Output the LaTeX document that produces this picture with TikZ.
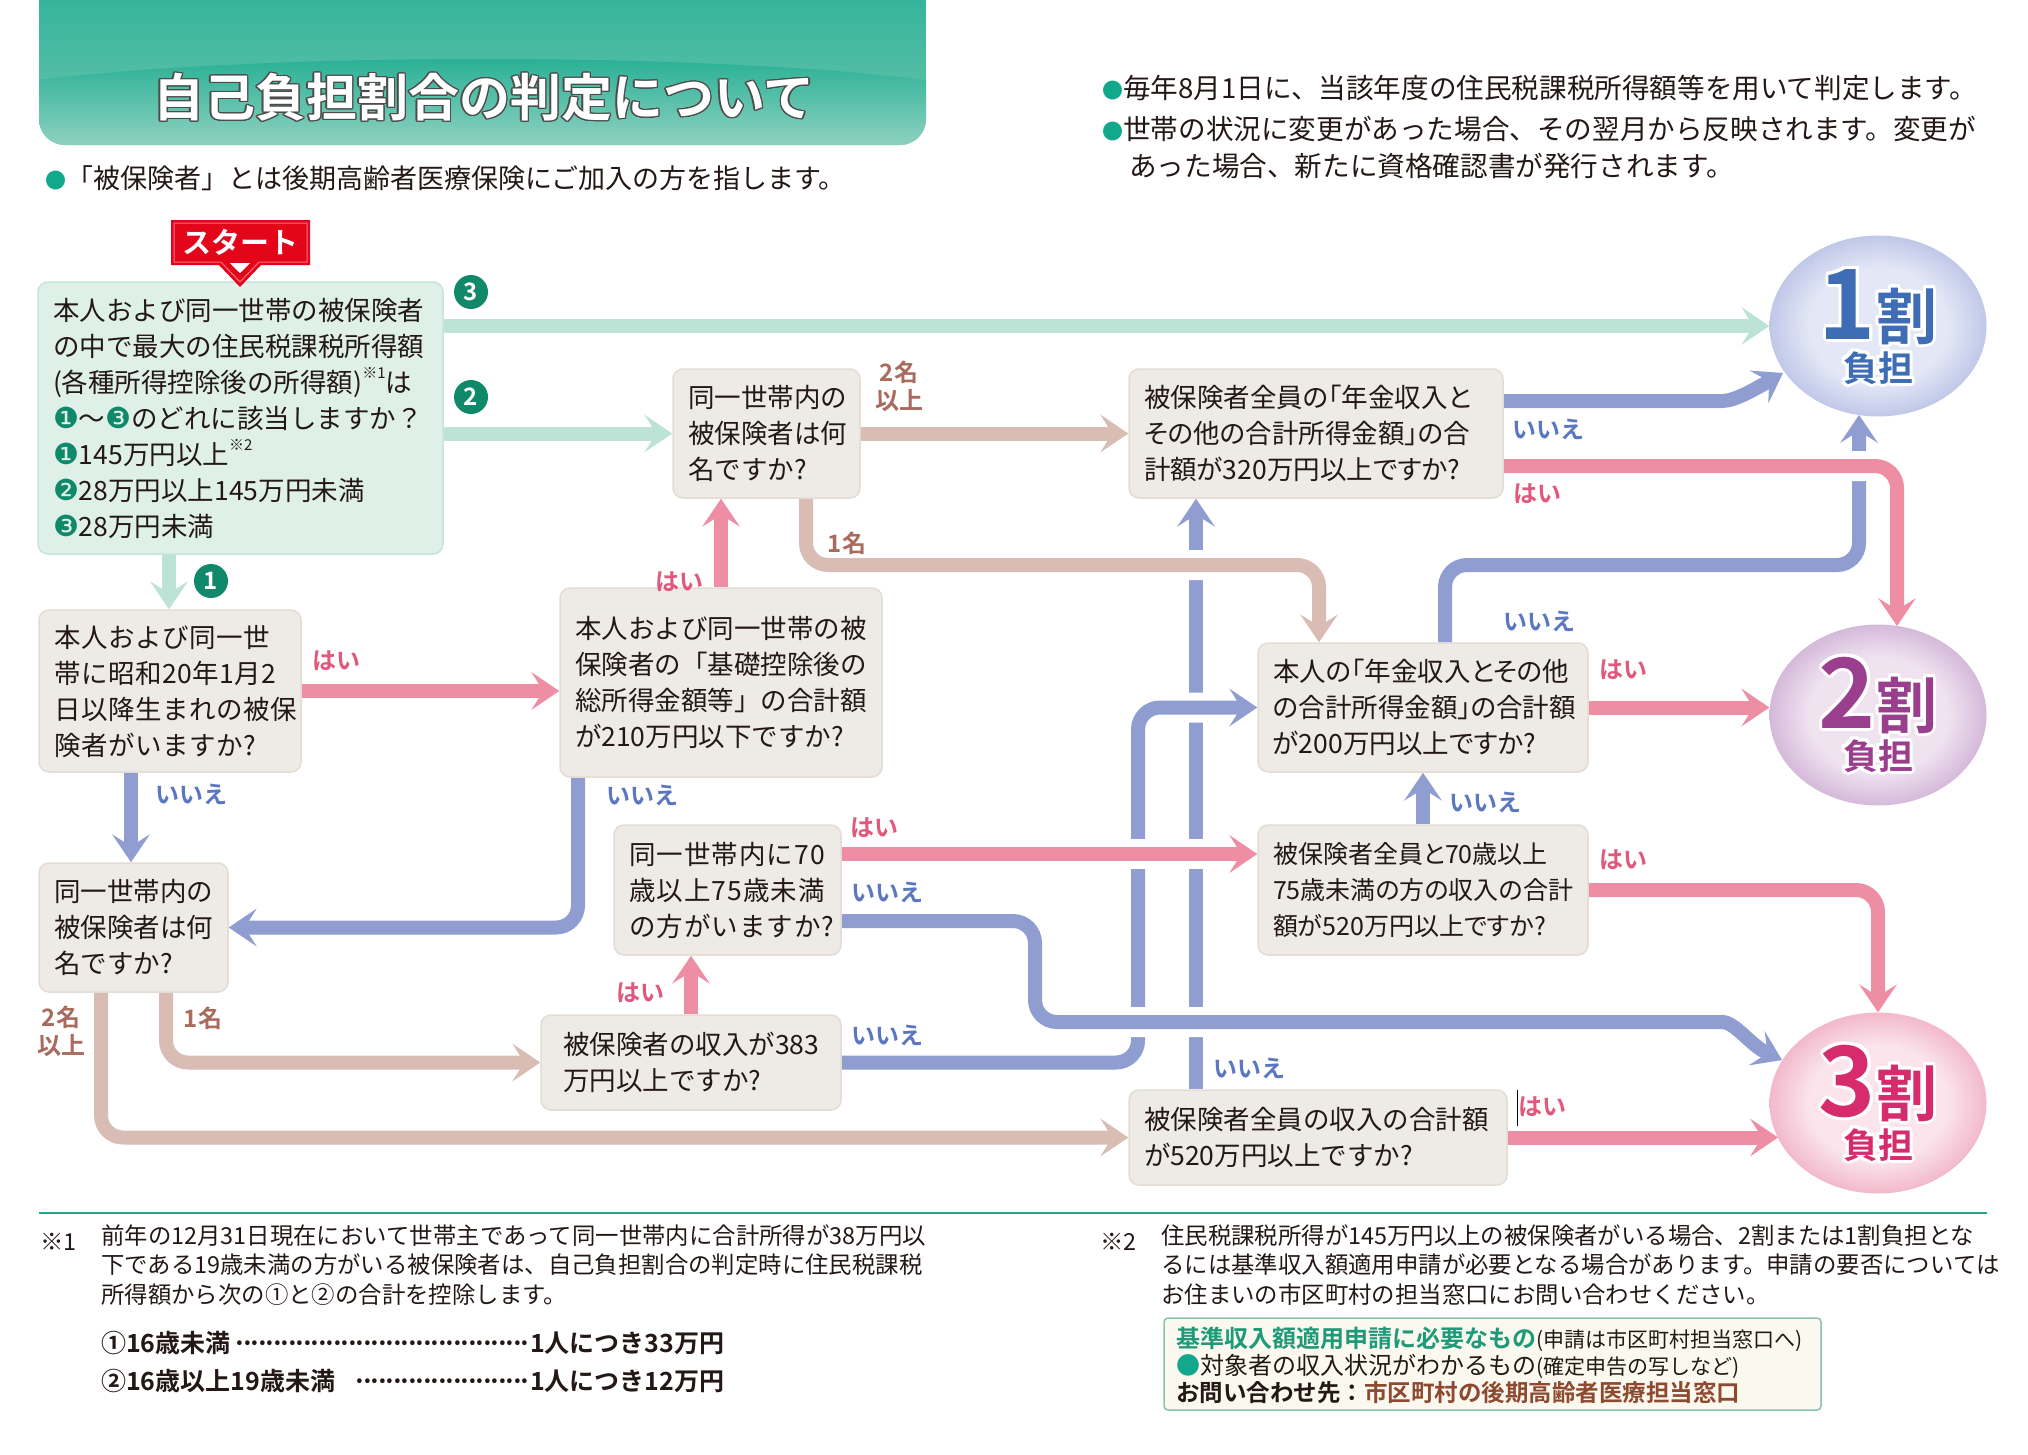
\documentclass[tikz,border=0pt]{standalone}
\usepackage{fontspec}
\setmainfont{Noto Sans CJK JP}[BoldFont={Noto Sans CJK JP Bold}]
\newfontfamily\djv{DejaVu Sans}
\usepackage{contour}
\usetikzlibrary{arrows.meta,shapes.geometric,backgrounds}

\definecolor{cgreen}{HTML}{BDE2D6}
\definecolor{cpink}{HTML}{EE8EA5}
\definecolor{cblue}{HTML}{8F9DD0}
\definecolor{crose}{HTML}{D9BCB3}
\definecolor{boxfill}{HTML}{EEEAE5}
\definecolor{boxline}{HTML}{E2DCD4}
\definecolor{stfill}{HTML}{DFF0E9}
\definecolor{stline}{HTML}{C6E5D9}
\definecolor{numg}{HTML}{10896A}
\definecolor{yesc}{HTML}{E2587D}
\definecolor{noc}{HTML}{5B77C0}
\definecolor{namc}{HTML}{A86B5E}
\definecolor{bullg}{HTML}{12A88B}
\definecolor{startred}{HTML}{E3051A}
\definecolor{startln}{HTML}{F2707C}
\definecolor{ttop}{HTML}{27B197}
\definecolor{tmid}{HTML}{6CC4AD}
\definecolor{tarc}{HTML}{22AE92}
\definecolor{tbot}{HTML}{8ED1C0}
\definecolor{sepg}{HTML}{1FA98C}
\definecolor{c1in}{HTML}{E3E7F6}
\definecolor{c1out}{HTML}{C0C8E8}
\definecolor{c1t}{HTML}{3E6DB5}
\definecolor{c2in}{HTML}{EFE3F0}
\definecolor{c2out}{HTML}{D5B9DA}
\definecolor{c2t}{HTML}{9A3F8D}
\definecolor{c3in}{HTML}{FBE4EB}
\definecolor{c3out}{HTML}{F2B9CB}
\definecolor{c3t}{HTML}{D62C6E}
\definecolor{creamf}{HTML}{FBF8EF}
\definecolor{creaml}{HTML}{86C2AC}
\definecolor{needg}{HTML}{1E9A78}
\definecolor{brownc}{HTML}{8E4A30}
\definecolor{txt}{HTML}{231815}

\pgfdeclareradialshading{ringA}{\pgfpoint{0bp}{0bp}}{color(0bp)=(c1in); color(16bp)=(c1in); color(25bp)=(c1out); color(50bp)=(c1out)}
\pgfdeclareradialshading{ringB}{\pgfpoint{0bp}{0bp}}{color(0bp)=(c2in); color(16bp)=(c2in); color(25bp)=(c2out); color(50bp)=(c2out)}
\pgfdeclareradialshading{ringC}{\pgfpoint{0bp}{0bp}}{color(0bp)=(c3in); color(16bp)=(c3in); color(25bp)=(c3out); color(50bp)=(c3out)}

\newcommand\qf{\fontsize{26.5}{36}\selectfont}
\newcommand\gn[1]{{\djv\fontsize{29}{29}\selectfont\color{numg}#1}}
\newcommand\sups[1]{\raisebox{0.5em}{\fontsize{15}{15}\selectfont #1}}
\newcommand\bul{{\color{bullg}\fontsize{21}{21}\selectfont ●}}
\newcommand\fnf{\fontsize{23.4}{29.7}\selectfont}

\begin{document}
\begin{tikzpicture}[x=1pt,y=-1pt,
  >={Stealth[length=28pt,width=38pt,inset=12pt,line width=0pt]},
  conn/.style={line width=14pt,rounded corners=22pt,->},
  gl/.style={conn,draw=cgreen},
  pk/.style={conn,draw=cpink},
  bl/.style={conn,draw=cblue},
  rs/.style={conn,draw=crose},
  halo/.style={preaction={draw=white,line width=30pt,-}},
  qbox/.style={draw=boxline,line width=1.5pt,fill=boxfill,rounded corners=10pt,inner xsep=15pt,inner ysep=0pt,align=left,font=\qf,text=txt},
  pbox/.style={qbox,font=\qf\addfontfeature{RawFeature=+palt}},
  ylab/.style={font=\bfseries\fontsize{24}{24}\selectfont,text=yesc},
  nlab/.style={font=\bfseries\fontsize{24}{24}\selectfont,text=noc},
  mlab/.style={font=\bfseries\fontsize{24}{28}\selectfont,text=namc,align=center},
  gnum/.style={circle,fill=numg,text=white,inner sep=0pt,minimum size=34pt,font=\bfseries\fontsize{24}{24}\selectfont},
  res/.style={ellipse,minimum width=217pt,minimum height=181pt,inner sep=0pt,shade},
  rtext/.style={anchor=base,inner sep=0pt},
]
\useasboundingbox (0,0) rectangle (2028,1454);

% ---------- title banner ----------
\begin{scope}
\clip[rounded corners=26pt] (39,-40) rectangle (926,145);
\shade[top color=ttop,bottom color=tmid] (39,-40) rectangle (926,145);
\shade[top color=tarc,bottom color=tbot] (39,145) -- (39,80) .. controls (260,52) and (705,52) .. (926,80) -- (926,145) -- cycle;
\end{scope}
\node[font=\bfseries\fontsize{51}{51}\selectfont,text=white] (title) at (484,98) {\contourlength{1.3pt}\contour{black!70}{自己負担割合の判定について}};

% ---------- header notes ----------
\node[anchor=west,font=\fontsize{27}{27}\selectfont,text=txt,inner sep=0pt] (hint) at (45,178) {\bul「被保険者」とは後期高齢者医療保険にご加入の方を指します。};
\node[anchor=west,font=\fontsize{27.6}{27.6}\selectfont,text=txt,inner sep=0pt] (noteA) at (1102,88) {\bul 毎年8月1日に、当該年度の住民税課税所得額等を用いて判定します。};
\node[anchor=west,font=\fontsize{27.6}{27.6}\selectfont,text=txt,inner sep=0pt] (noteB) at (1102,129) {\bul 世帯の状況に変更があった場合、その翌月から反映されます。変更が};
\node[anchor=west,font=\fontsize{27.6}{27.6}\selectfont,text=txt,inner sep=0pt] (noteC) at (1129,166) {あった場合、新たに資格確認書が発行されます。};

% ---------- boxes ----------
\node[qbox,draw=stline,fill=stfill,minimum width=403pt,minimum height=272pt,text width=375pt] (B0) at (240.5,418)
 {本人および同一世帯の被保険者\\の中で最大の住民税課税所得額\\(各種所得控除後の所得額)\sups{※1}は\\\gn{❶}〜\gn{❸}のどれに該当しますか？\\\gn{❶}145万円以上\sups{※2}\\\gn{❷}28万円以上145万円未満\\\gn{❸}28万円未満};
\node[qbox,minimum width=262pt,minimum height=162pt,text width=232pt,font=\qf\addfontfeature{LetterSpace=2}] (B1) at (170,691)
 {本人および同一世\\帯に昭和20年1月2\\日以降生まれの被保\\険者がいますか?};
\node[qbox,minimum width=322pt,minimum height=189pt,text width=292pt] (B2) at (721,682.5)
 {本人および同一世帯の被\\保険者の「基礎控除後の\\総所得金額等」の合計額\\が210万円以下ですか?};
\node[qbox,minimum width=187pt,minimum height=129pt,text width=157pt] (B3) at (766.5,433.5)
 {同一世帯内の\\被保険者は何\\名ですか?};
\node[pbox,minimum width=374pt,minimum height=129pt,text width=344pt] (B4) at (1316,433.5)
 {被保険者全員の「年金収入と\\その他の合計所得金額」の合\\計額が320万円以上ですか?};
\node[pbox,minimum width=330pt,minimum height=129pt,text width=300pt] (B5) at (1423,707.5)
 {本人の「年金収入とその他\\の合計所得金額」の合計額\\が200万円以上ですか?};
\node[pbox,minimum width=330pt,minimum height=130pt,text width=300pt,font=\fontsize{25}{36}\selectfont\addfontfeature{RawFeature=+palt}] (B6) at (1423,890)
 {被保険者全員と70歳以上\\75歳未満の方の収入の合計\\額が520万円以上ですか?};
\node[qbox,minimum width=227pt,minimum height=130pt,text width=197pt,font=\qf\addfontfeature{LetterSpace=4}] (B7) at (727.5,890)
 {同一世帯内に70\\歳以上75歳未満\\の方がいますか?};
\node[qbox,minimum width=189pt,minimum height=129pt,text width=159pt] (B8) at (133.5,927.5)
 {同一世帯内の\\被保険者は何\\名ですか?};
\node[qbox,minimum width=300pt,minimum height=95pt,inner xsep=22pt,text width=256pt] (B9) at (691,1062.5)
 {被保険者の収入が383\\万円以上ですか?};
\node[qbox,minimum width=378pt,minimum height=95pt,text width=348pt] (B10) at (1318,1137.5)
 {被保険者全員の収入の合計額\\が520万円以上ですか?};

% ---------- start label ----------
\path[fill=startred] (171,220) -- (310,220) -- (310,265) -- (261,265) -- (240,287) -- (219,265) -- (171,265) -- cycle;
\draw[startln,line width=1pt] (174,223) -- (307,223) -- (307,262) -- (259,262) -- (240,282) -- (221,262) -- (174,262) -- cycle;
\fill[white] (230,263) -- (250,263) -- (240,273) -- cycle;
\node[font=\bfseries\fontsize{29}{29}\selectfont,text=white] (start) at (240.5,242) {スタート};

% ---------- result circles ----------
\node[res,shading=ringA] (C1) at (1878,326) {};
\node[res,shading=ringB] (C2) at (1878,715) {};
\node[res,shading=ringC] (C3) at (1878,1103) {};
\contourlength{3pt}
\node[rtext,text=c1t] (C1a) at (1878,339) {\contour{white}{\bfseries\fontsize{97}{97}\selectfont 1}\contour{white}{\bfseries\fontsize{61}{61}\selectfont 割}};
\node[rtext,text=c1t] (C1b) at (1878,381) {\contour{white}{\bfseries\fontsize{35}{35}\selectfont 負担}};
\node[rtext,text=c2t] (C2a) at (1878,728) {\contour{white}{\bfseries\fontsize{97}{97}\selectfont 2}\contour{white}{\bfseries\fontsize{61}{61}\selectfont 割}};
\node[rtext,text=c2t] (C2b) at (1878,769) {\contour{white}{\bfseries\fontsize{35}{35}\selectfont 負担}};
\node[rtext,text=c3t] (C3a) at (1878,1116) {\contour{white}{\bfseries\fontsize{97}{97}\selectfont 3}\contour{white}{\bfseries\fontsize{61}{61}\selectfont 割}};
\node[rtext,text=c3t] (C3b) at (1878,1158) {\contour{white}{\bfseries\fontsize{35}{35}\selectfont 負担}};

% ---------- connectors ----------
\begin{scope}[on background layer]
\draw[bl] (1196,0 |- B10.north) -- (1196,0 |- B4.south);
\draw[bl] (1445,0 |- B5.north) -- (1445,565) -- (1859,565) -- (1859,415);
\draw[bl,halo] (B9.east) -- (1138,0 |- B9.east) -- (1138,0 |- B5.west) -- (B5.west);
\draw[rs,halo] (806,0 |- B3.south) -- (806,565) -- (1319,565) -- (1319,0 |- B5.north);
\draw[pk,halo] (B4.east |- 0,466) -- (1897,466) -- (1897,626);
\draw[pk,halo] (B7.east |- 0,854) -- (B6.west |- 0,854);
\draw[bl,halo] (B7.east |- 0,921) -- (1035,921) -- (1035,1022) -- (1700,1022) to[out=0,in=155] (1782,1060);
\draw[gl] (B0.east |- C1.west) -- (C1.west);
\draw[gl] (B0.east |- B3.west) -- (B3.west);
\draw[gl] (169,0 |- B0.south) -- (169,0 |- B1.north);
\draw[pk] (B1.east) -- (B1.east -| B2.west);
\draw[bl] (131,0 |- B1.south) -- (131,0 |- B8.north);
\draw[pk] (B2.north) -- (B2.north |- B3.south);
\draw[bl] (578,0 |- B2.south) -- (578,0 |- B8.east) -- (B8.east);
\draw[rs] (B3.east) -- (B4.west);
\draw[bl] (B4.east |- 0,401) -- (1700,401) to[out=0,in=210] (1783,373);
\draw[pk] (B5.east) -- (B5.east -| C2.west);
\draw[bl] (B6.north) -- (B5.south);
\draw[pk] (B6.east) -- (1878,0 |- B6.east) -- (C3.north);
\draw[pk] (B9.north) -- (B9.north |- B7.south);
\draw[pk] (B10.east) -- (1778,0 |- B10.east);
\draw[rs] (166,0 |- B8.south) -- (166,0 |- B9.west) -- (B9.west);
\draw[rs] (101,0 |- B8.south) -- (101,0 |- B10.west) -- (B10.west);
\end{scope}
\draw[black,line width=1pt] (1517,1090) -- (1517,1126);

% ---------- markers & labels ----------
\node[gnum] (m3) at (471,292) {3};
\node[gnum] (m2) at (471,397) {2};
\node[gnum] (m1) at (211,581) {1};
\node[ylab] (y1) at (336,661) {はい};
\node[ylab] (y2) at (679,582) {はい};
\node[ylab] (y4) at (1537,494) {はい};
\node[ylab] (y5) at (1623,670) {はい};
\node[ylab] (y6) at (1623,860) {はい};
\node[ylab] (y7) at (874,828) {はい};
\node[ylab] (y9) at (640,993) {はい};
\node[ylab] (y10) at (1542,1107) {はい};
\node[nlab] (n1) at (191,794) {いいえ};
\node[nlab] (n2) at (642,795) {いいえ};
\node[nlab] (n4) at (1548,429) {いいえ};
\node[nlab] (n5) at (1539,621) {いいえ};
\node[nlab] (n6) at (1485,802) {いいえ};
\node[nlab] (n7) at (887,892) {いいえ};
\node[nlab] (n9) at (887,1035) {いいえ};
\node[nlab] (n10) at (1249,1068) {いいえ};
\node[mlab] (k1) at (899,386) {2名\\以上};
\node[mlab] (k2) at (847,543) {1名};
\node[mlab] (k3) at (61,1031) {2名\\以上};
\node[mlab] (k4) at (203,1018) {1名};

% ---------- footnotes ----------
\draw[sepg,line width=2.5pt] (39,1213) -- (1987,1213);
\node[anchor=west,font=\fnf,text=txt,inner sep=0pt] (f1m) at (40,1242) {※1};
\node[anchor=north west,font=\fnf,text=txt,inner sep=0pt,align=left] (f1) at (101,1224)
 {前年の12月31日現在において世帯主であって同一世帯内に合計所得が38万円以\\下である19歳未満の方がいる被保険者は、自己負担割合の判定時に住民税課税\\所得額から次の①と②の合計を控除します。};
\node[anchor=west,font=\bfseries\fontsize{25}{25}\selectfont,text=txt,inner sep=0pt] (f1a) at (101,1343)
 {\makebox[429pt][l]{①16歳未満\leaders\hbox to 7.5pt{\hss·\hss}\hfill}1人につき33万円};
\node[anchor=west,font=\bfseries\fontsize{25}{25}\selectfont,text=txt,inner sep=0pt] (f1b) at (101,1381)
 {\makebox[429pt][l]{②16歳以上19歳未満\hspace{14pt}\leaders\hbox to 7.5pt{\hss·\hss}\hfill}1人につき12万円};
\node[anchor=west,font=\fnf,text=txt,inner sep=0pt] (f2m) at (1100,1242) {※2};
\node[anchor=north west,font=\fnf,text=txt,inner sep=0pt,align=left] (f2) at (1161,1224)
 {住民税課税所得が145万円以上の被保険者がいる場合、2割または1割負担とな\\るには基準収入額適用申請が必要となる場合があります。申請の要否については\\お住まいの市区町村の担当窓口にお問い合わせください。};
\node[draw=creaml,fill=creamf,line width=1.5pt,rounded corners=4pt,minimum width=657pt,minimum height=92pt] (f2box) at (1492.5,1364) {};
\node[anchor=west,inner sep=0pt,text=txt] (f2a) at (1176,1339)
 {{\bfseries\fontsize{24}{24}\selectfont\color{needg}基準収入額適用申請に必要なもの}{\fontsize{21}{21}\selectfont (申請は市区町村担当窓口へ)}};
\node[anchor=west,inner sep=0pt,text=txt] (f2b) at (1176,1366)
 {{\fontsize{24}{24}\selectfont{\color{bullg}●}対象者の収入状況がわかるもの}{\fontsize{21}{21}\selectfont (確定申告の写しなど)}};
\node[anchor=west,inner sep=0pt,text=txt] (f2c) at (1176,1393)
 {{\bfseries\fontsize{23.5}{23.5}\selectfont お問い合わせ先：{\color{brownc}市区町村の後期高齢者医療担当窓口}}};
\end{tikzpicture}
\end{document}
